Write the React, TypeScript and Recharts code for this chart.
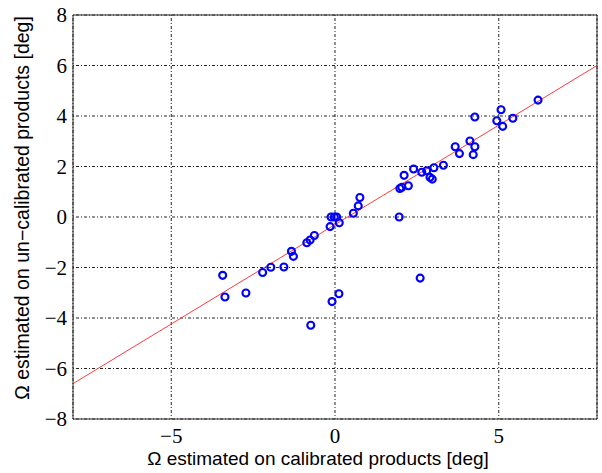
import React from 'react';
import { ScatterChart, Scatter, XAxis, YAxis, CartesianGrid, ReferenceLine, Label } from 'recharts';

const calibrated = [
  -3.43, -3.36, -2.72, -2.21, -1.96, -1.56, -1.33, -1.27, -0.86, -0.76, -0.63, -0.74,
  -0.15, 0.13, -0.09, 0.12, -0.12, -0.02, 0.05, 0.56, 0.71, 0.76, 1.96, 2.6,
  1.98, 2.04, 2.24, 2.11, 2.4, 2.65, 2.8, 2.9, 2.97, 3.02, 3.31, 3.67, 3.8,
  4.12, 4.27, 4.22, 4.27, 4.94, 5.07, 5.12, 5.43, 6.2,
];
const uncalibrated = [
  -2.31, -3.17, -3.01, -2.2, -1.99, -1.98, -1.36, -1.56, -1.02, -0.91, -0.73, -4.29,
  -0.38, -0.23, -3.35, -3.04, 0, 0, 0, 0.15, 0.44, 0.77, 0, -2.42,
  1.13, 1.18, 1.24, 1.65, 1.9, 1.77, 1.83, 1.57, 1.5, 1.95, 2.05, 2.78, 2.51,
  3.01, 2.78, 2.47, 3.96, 3.81, 4.25, 3.59, 3.91, 4.63,
];
const fitLine = [
  { x: -8, y: -6.6 },
  { x: 8, y: 6 },
];
const xTicks = [-5, 0, 5];
const yTicks = [-8, -6, -4, -2, 0, 2, 4, 6, 8];
const xLabel = 'Ω estimated on calibrated products [deg]';
const yLabel = 'Ω estimated on un−calibrated products [deg]';

const points = calibrated.map((x, i) => ({ x, y: uncalibrated[i] }));

const fmt = (v: number) => String(v).replace('-', '−');

const Ring = (props: any) => {
  const { cx, cy } = props;
  if (cx == null || cy == null) return null;
  return <circle cx={cx} cy={cy} r={3.5} fill="none" stroke="#0000ff" strokeWidth={2.1} />;
};

const tickStyle = { fontFamily: '"Liberation Serif", serif', fontSize: 21, fill: '#000' };

export default function App() {
  return (
    <div style={{ position: 'absolute', left: 0, top: 0, background: '#fff' }}>
      <ScatterChart width={602} height={473} margin={{ top: 15, right: 5, left: 0, bottom: 0 }}>
        <CartesianGrid stroke="#222" strokeDasharray="1 2 3 2" strokeWidth={1} />
        <XAxis
          type="number"
          dataKey="x"
          domain={[-8, 8]}
          ticks={xTicks}
          allowDataOverflow
          height={54}
          tickLine={false}
          tickSize={0}
          tickMargin={9}
          tick={tickStyle}
          tickFormatter={fmt}
          stroke="#262626"
          interval={0}
        >
          <Label
            content={() => (
              <text
                x={318}
                y={465}
                textAnchor="middle"
                style={{ fontFamily: '"Liberation Sans", Arial, sans-serif', fontSize: 19, fill: '#000' }}
              >
                {xLabel}
              </text>
            )}
          />
        </XAxis>
        <YAxis
          type="number"
          dataKey="y"
          domain={[-8, 8]}
          ticks={yTicks}
          allowDataOverflow
          width={73}
          tickLine={false}
          tickSize={0}
          tickMargin={6}
          tick={tickStyle}
          tickFormatter={fmt}
          stroke="#262626"
          interval={0}
        >
          <Label
            content={() => (
              <text
                x={0}
                y={0}
                transform="translate(29,208) rotate(-90)"
                textAnchor="middle"
                style={{ fontFamily: '"Liberation Sans", Arial, sans-serif', fontSize: 19.5, fill: '#000' }}
              >
                {yLabel}
              </text>
            )}
          />
        </YAxis>
        <ReferenceLine y={8} stroke="#262626" strokeWidth={1} ifOverflow="visible" />
        <ReferenceLine x={8} stroke="#262626" strokeWidth={1} ifOverflow="visible" />
        <ReferenceLine segment={fitLine} stroke="#ff3b3b" strokeWidth={1} ifOverflow="visible" />
        <Scatter data={points} shape={<Ring />} isAnimationActive={false} />
      </ScatterChart>
    </div>
  );
}
